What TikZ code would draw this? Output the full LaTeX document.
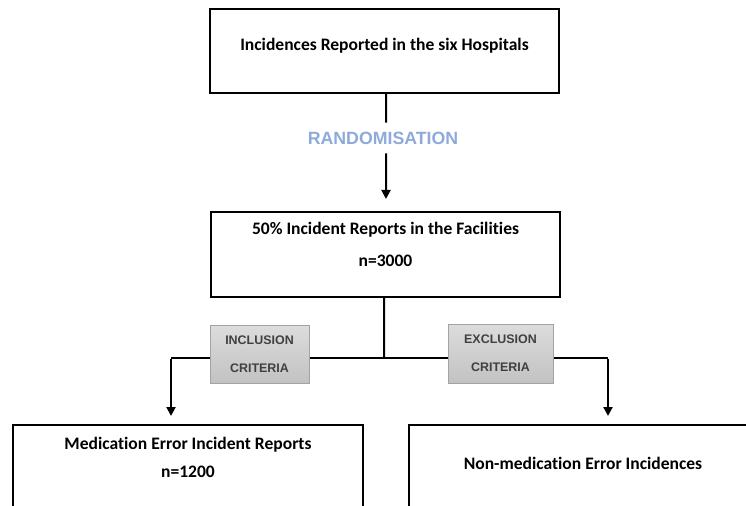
\documentclass[tikz,border=0pt]{standalone}
\usepackage{fontspec}
\setmainfont[Ligatures=NoCommon]{Carlito}
\newfontfamily\arialfont{Liberation Sans}
\usetikzlibrary{arrows.meta}
\definecolor{fcInk}{HTML}{000000}
\definecolor{fcRand}{HTML}{8EAADB}
\definecolor{fcGrey}{HTML}{404040}
\definecolor{fcEdge}{HTML}{A3A3A3}
\definecolor{fcTop}{HTML}{DCDCDC}
\definecolor{fcBottom}{HTML}{C2C2C2}

\begin{document}
\begin{tikzpicture}[
  x=1bp,y=-1bp,
  font=\bfseries\fontsize{17.6}{20}\selectfont,
  every node/.style={
    text=fcInk,align=center,outer sep=0pt,inner sep=0pt
  },
  box/.style={
    draw=fcInk,
    line width=1.4bp,
    fill=white
  },
  criteria/.style={
    draw=fcEdge,
    line width=0.8bp,
    top color=fcTop,
    bottom color=fcBottom,
    text=fcGrey,
    font=\arialfont\bfseries\fontsize{12.5}{28}\selectfont
  },
  flow/.style={
    -{Triangle[length=9bp,width=9bp]},
    draw=fcInk,
    line width=2bp
  },
  link/.style={
    draw=fcInk,
    line width=2bp
  }
]
\clip (0,0) rectangle (746,506);

% Boxes of the flow
\node[box,minimum width=349bp,minimum height=84bp]
  (hospitals) at (384.5,51) {};
\node[box,minimum width=349bp,minimum height=85bp]
  (facilities) at (385.5,254.5) {};
\node[box,minimum width=350bp,minimum height=120bp]
  (medication) at (188,485) {};
\node[box,minimum width=348bp,minimum height=120bp]
  (nonmed) at (583,485) {};

% Box texts
\node (hospitalstext) at (384.5,46) {Incidences Reported in the six Hospitals};
\node (facilitiestext) at (385.5,230) {50\% Incident Reports in the Facilities};
\node (ntotal) at (385.5,261) {n=3000};
\node (medicationtext) at (188,445) {Medication Error Incident Reports};
\node (nmed) at (188,472) {n=1200};
\node (nonmedtext) at (583,463) {Non-medication Error Incidences};

% Randomisation step
\node[
  text=fcRand,
  font=\arialfont\bfseries\fontsize{17.8}{20}\selectfont,
  inner ysep=9bp
] (rand) at (383,138) {RANDOMISATION};

\draw[link] (hospitals.south) ++(1.5,0) -- ([xshift=3bp]rand.north);
\draw[flow,shorten >=13bp] ([xshift=3bp]rand.south) -- ([xshift=0.5bp]facilities.north);

% Split into the two groups
\coordinate (joint) at (384,358);
\coordinate (lturn) at (171,358);
\coordinate (rturn) at (608,358);
\coordinate (lend) at (171,416);
\coordinate (rend) at (608,416);

\draw[link] ([xshift=-1.5bp]facilities.south) -- (joint);
\draw[link] (lturn) -- (rturn);
\draw[flow] ([yshift=-1bp]lturn) -- (lend);
\draw[flow] ([yshift=-1bp]rturn) -- (rend);

% Criteria labels on the split
\node[criteria,minimum width=99bp,minimum height=58bp]
  (inclusion) at (259.5,354) {INCLUSION\\CRITERIA};
\node[criteria,minimum width=105bp,minimum height=59bp]
  (exclusion) at (500.5,353.5) {EXCLUSION\\CRITERIA};

\end{tikzpicture}
\end{document}
